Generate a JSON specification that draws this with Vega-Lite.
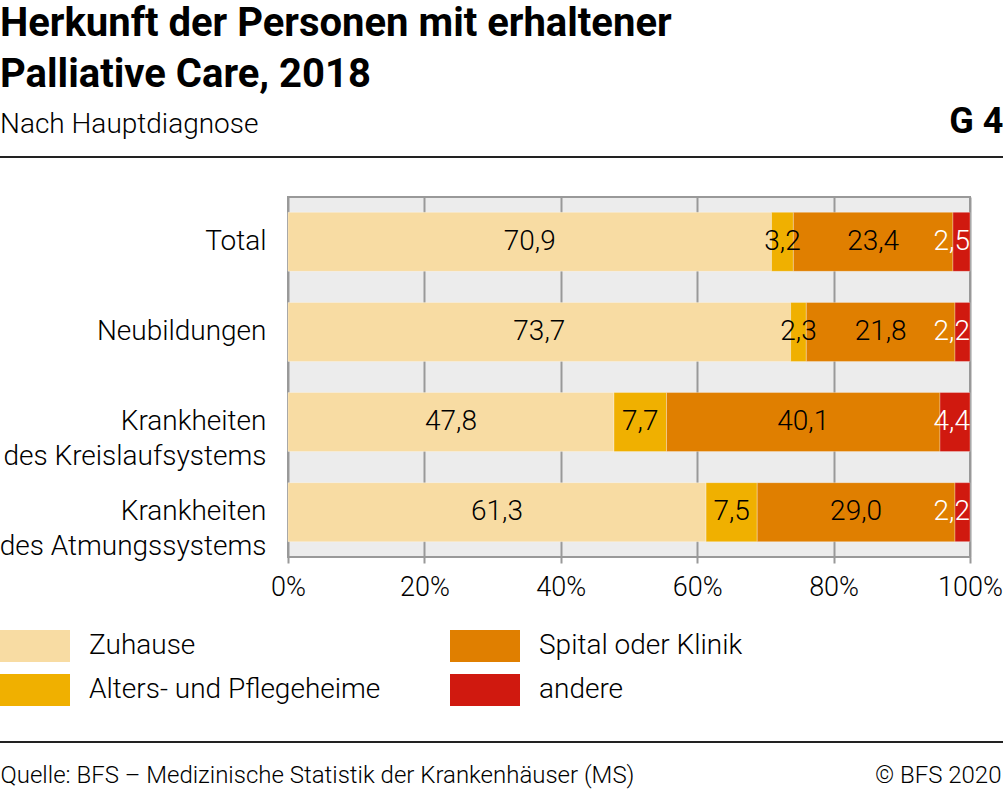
{
  "$schema": "https://vega.github.io/schema/vega-lite/v6.json",
  "width": 682,
  "height": 360,
  "autosize": "none",
  "padding": {"left": 288, "top": 197, "right": 33, "bottom": 233},
  "background": "white",
  "title": {
    "text": ["Herkunft der Personen mit erhaltener", "Palliative Care, 2018"],
    "subtitle": "Nach Hauptdiagnose",
    "anchor": "start",
    "frame": "group",
    "dx": -288,
    "offset": -36,
    "font": "Roboto",
    "fontSize": 40,
    "fontWeight": "bold",
    "lineHeight": 51,
    "color": "#000",
    "subtitleFont": "Roboto",
    "subtitleFontSize": 28,
    "subtitleFontWeight": 300,
    "subtitleColor": "#000",
    "subtitlePadding": 16
  },
  "data": {
    "values": [
      {"cat": "Total", "source": "Zuhause", "value": 70.9, "ord": 1},
      {"cat": "Total", "source": "Alters- und Pflegeheime", "value": 3.2, "ord": 2},
      {"cat": "Total", "source": "Spital oder Klinik", "value": 23.4, "ord": 3},
      {"cat": "Total", "source": "andere", "value": 2.5, "ord": 4},
      {"cat": "Neubildungen", "source": "Zuhause", "value": 73.7, "ord": 1},
      {"cat": "Neubildungen", "source": "Alters- und Pflegeheime", "value": 2.3, "ord": 2},
      {"cat": "Neubildungen", "source": "Spital oder Klinik", "value": 21.8, "ord": 3},
      {"cat": "Neubildungen", "source": "andere", "value": 2.2, "ord": 4},
      {"cat": "Krankheiten des Kreislaufsystems", "source": "Zuhause", "value": 47.8, "ord": 1},
      {"cat": "Krankheiten des Kreislaufsystems", "source": "Alters- und Pflegeheime", "value": 7.7, "ord": 2},
      {"cat": "Krankheiten des Kreislaufsystems", "source": "Spital oder Klinik", "value": 40.1, "ord": 3},
      {"cat": "Krankheiten des Kreislaufsystems", "source": "andere", "value": 4.4, "ord": 4},
      {"cat": "Krankheiten des Atmungssystems", "source": "Zuhause", "value": 61.3, "ord": 1},
      {"cat": "Krankheiten des Atmungssystems", "source": "Alters- und Pflegeheime", "value": 7.5, "ord": 2},
      {"cat": "Krankheiten des Atmungssystems", "source": "Spital oder Klinik", "value": 29.0, "ord": 3},
      {"cat": "Krankheiten des Atmungssystems", "source": "andere", "value": 2.2, "ord": 4}
    ]
  },
  "transform": [
    {"stack": "value", "groupby": ["cat"], "sort": [{"field": "ord"}], "as": ["v0", "v1"]},
    {"calculate": "(datum.v0 + datum.v1) / 2", "as": "mid"}
  ],
  "layer": [
    {
      "mark": {"type": "bar", "stroke": "white", "strokeWidth": 0.5, "strokeOpacity": 0.6},
      "encoding": {
        "y": {
          "field": "cat",
          "type": "nominal",
          "sort": ["Total", "Neubildungen", "Krankheiten des Kreislaufsystems", "Krankheiten des Atmungssystems"],
          "scale": {"paddingInner": 0.345, "paddingOuter": 0.17},
          "axis": {
            "labelExpr": "split(replace(datum.label, 'Krankheiten ', 'Krankheiten|'), '|')",
            "labelFont": "Roboto",
            "labelFontSize": 28,
            "labelFontWeight": 300,
            "labelColor": "#000",
            "labelPadding": 22,
            "labelLineHeight": 35,
            "labelLimit": 400,
            "ticks": false,
            "domain": false,
            "title": "G 4",
            "titleFont": "Roboto",
            "titleFontSize": 36,
            "titleFontWeight": "bold",
            "titleColor": "#000",
            "titleAngle": 0,
            "titleX": 715,
            "titleY": -65,
            "titleAlign": "right",
            "titleBaseline": "alphabetic"
          }
        },
        "x": {
          "field": "v0",
          "type": "quantitative",
          "scale": {"domain": [0, 100], "nice": false},
          "axis": {
            "values": [0, 20, 40, 60, 80, 100],
            "labelExpr": "datum.value + '%'",
            "labelFont": "Roboto",
            "labelFontSize": 27,
            "labelFontWeight": 300,
            "labelColor": "#000",
            "labelPadding": 11,
            "labelFlush": false,
            "labelOverlap": false,
            "grid": true,
            "gridColor": "#999",
            "gridWidth": 2,
            "domain": false,
            "tickColor": "#999",
            "tickWidth": 2,
            "tickSize": 6,
            "title": "Quelle: BFS – Medizinische Statistik der Krankenhäuser (MS)",
            "titleFont": "Roboto",
            "titleFontSize": 24,
            "titleFontWeight": 300,
            "titleColor": "#000",
            "titleX": -288,
            "titleY": 225,
            "titleAlign": "left",
            "titleAnchor": "start",
            "titleBaseline": "alphabetic"
          }
        },
        "x2": {"field": "v1"},
        "color": {
          "field": "source",
          "type": "nominal",
          "scale": {
            "domain": ["Zuhause", "Alters- und Pflegeheime", "Spital oder Klinik", "andere"],
            "range": ["#f8dca3", "#f0b000", "#e07f00", "#d0190f"]
          },
          "legend": {
            "orient": "none",
            "legendX": -288,
            "legendY": 433,
            "title": null,
            "columns": 2,
            "columnPadding": 69,
            "rowPadding": 12,
            "clipHeight": 32,
            "symbolType": "M-1,-0.457H1V0.457H-1Z",
            "symbolSize": 4900,
            "symbolStrokeWidth": 0,
            "symbolOpacity": 1,
            "labelFont": "Roboto",
            "labelFontSize": 28,
            "labelFontWeight": 300,
            "labelColor": "#000",
            "labelOffset": 19,
            "labelLimit": 400
          }
        }
      }
    },
    {
      "transform": [{"filter": "datum.source != 'andere'"}],
      "mark": {"type": "text", "font": "Roboto", "fontSize": 28, "fontWeight": 300, "color": "#000", "baseline": "middle"},
      "encoding": {
        "y": {"field": "cat", "type": "nominal", "sort": ["Total", "Neubildungen", "Krankheiten des Kreislaufsystems", "Krankheiten des Atmungssystems"]},
        "x": {"field": "mid", "type": "quantitative", "axis": null},
        "text": {"field": "value", "type": "quantitative", "format": ".1f"}
      }
    },
    {
      "transform": [{"filter": "datum.source == 'andere'"}],
      "mark": {"type": "text", "font": "Roboto", "fontSize": 28, "fontWeight": 300, "color": "#fff", "align": "right", "baseline": "middle", "dx": 0},
      "encoding": {
        "y": {"field": "cat", "type": "nominal", "sort": ["Total", "Neubildungen", "Krankheiten des Kreislaufsystems", "Krankheiten des Atmungssystems"]},
        "x": {
          "field": "v1",
          "type": "quantitative",
          "axis": {
            "orient": "top",
            "labels": false,
            "ticks": false,
            "domain": false,
            "grid": false,
            "title": "© BFS 2020",
            "titleFont": "Roboto",
            "titleFontSize": 24,
            "titleFontWeight": 300,
            "titleColor": "#000",
            "titleX": 713,
            "titleY": 585,
            "titleAlign": "right",
            "titleAnchor": "end",
            "titleBaseline": "alphabetic"
          }
        },
        "text": {"field": "value", "type": "quantitative", "format": ".1f"}
      }
    },
    {
      "data": {"values": [{}]},
      "mark": {"type": "rule", "color": "#222", "strokeWidth": 2},
      "encoding": {"x": {"value": -288}, "x2": {"value": 715}, "y": {"value": -40}}
    },
    {
      "data": {"values": [{}]},
      "mark": {"type": "rule", "color": "#222", "strokeWidth": 2},
      "encoding": {"x": {"value": -288}, "x2": {"value": 715}, "y": {"value": 545}}
    }
  ],
  "resolve": {"axis": {"x": "independent"}},
  "config": {
    "font": "Roboto",
    "locale": {"number": {"decimal": ",", "thousands": "'", "grouping": [3], "currency": ["", " CHF"]}},
    "view": {"fill": "#ececec", "stroke": "#999", "strokeWidth": 2}
  }
}
